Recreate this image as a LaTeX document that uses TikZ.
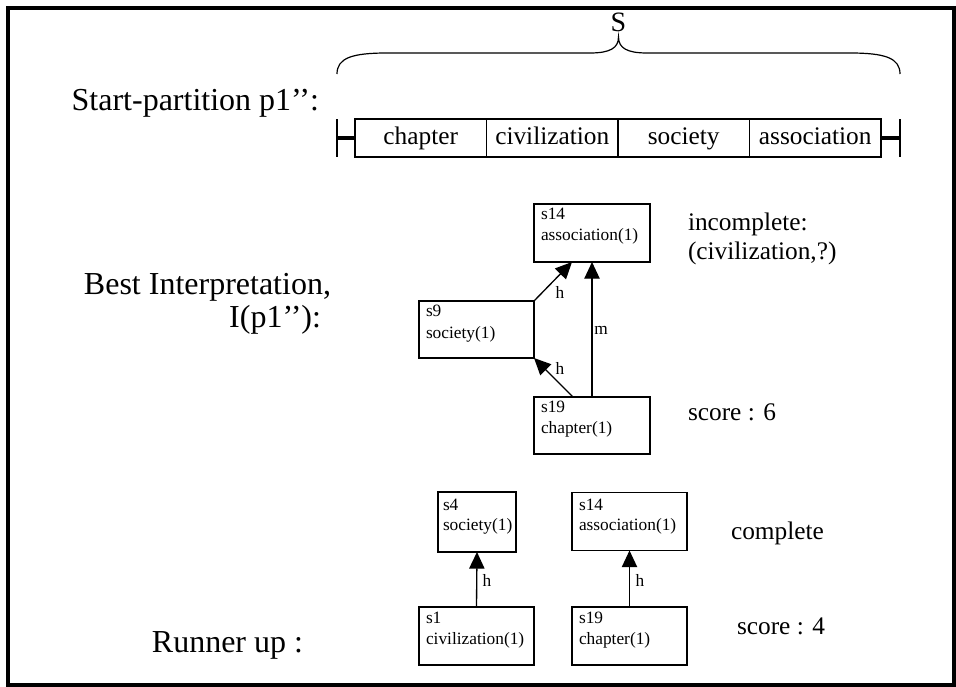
\documentclass[tikz,border=0pt]{standalone}
\usepackage{fontspec}
\setmainfont{Liberation Serif}
\usetikzlibrary{arrows.meta,calc}
\begin{document}
\begin{tikzpicture}[x=0.75pt,y=-0.75pt,
  every node/.style={inner sep=0pt,outer sep=0pt},
  bigtxt/.style={font=\fontsize{24}{28}\selectfont},
  midtxt/.style={font=\fontsize{19}{23}\selectfont},
  smalltxt/.style={font=\fontsize{13}{16}\selectfont},
  cell/.style={draw,line width=0.9pt,minimum width=98.625pt,minimum height=28.5pt,
               text height=13pt,text depth=4pt,midtxt},
  sbox/.style={draw,line width=1pt,minimum width=87pt,minimum height=43.5pt},
  nbox/.style={draw,line width=1pt,minimum width=58.5pt,minimum height=45pt},
  btxt/.style={smalltxt,anchor=base west},
  elab/.style={smalltxt},
  arr/.style={-{Triangle[length=12.5pt,width=11.5pt]},line width=1pt},
]
\useasboundingbox (0,0) rectangle (956,686);
% outer frame
\draw[line width=3pt] (8,8) rectangle (954,685);

% ---- start partition ----
\node[bigtxt,anchor=base east] (lblstart) at (319,110) {Start-partition p1’’:};
\node[font=\fontsize{21}{25}\selectfont,anchor=base] (stop) at (618.5,31) {S};
\draw[line width=0.9pt]
  (337,74) .. controls (337,58) and (352,53) .. (387,53) -- (590,53)
  .. controls (610,53) and (618.5,48) .. (618.5,37)
  .. controls (618.5,48) and (627,53) .. (647,53) -- (850,53)
  .. controls (885,53) and (900,58) .. (900,74);

\node[cell] (c1) at (420.75,138) {chapter};
\node[cell] (c2) at (552.25,138) {civilization};
\node[cell] (c3) at (683.75,138) {society};
\node[cell] (c4) at (815.25,138) {association};
\coordinate (tl) at (337,138);
\coordinate (tr) at (900,138);
\draw[line width=3pt] (tl) -- (c1.west);
\draw[line width=3pt] (c4.east) -- (tr);
\draw[line width=0.9pt] (337,119) -- (337,157);
\draw[line width=0.9pt] (900,119) -- (900,157);

% ---- best interpretation ----
\node[bigtxt,anchor=base east] (lblbest) at (331,294) {Best Interpretation,};
\node[bigtxt,anchor=base east] (lblbest2) at (321,327) {I(p1’’):};

\node[sbox] (s14a) at (592,233) {};
\node[btxt] (s14at) at (541,219) {s14};
\node[btxt] (s14an) at (541,240) {association(1)};

\node[sbox,minimum width=86.25pt,minimum height=42.75pt] (s9) at (476.5,329.5) {};
\node[btxt] (s9t) at (426,316) {s9};
\node[btxt] (s9n) at (426,338) {society(1)};

\node[sbox,minimum height=42.75pt] (s19a) at (592,425.5) {};
\node[btxt] (s19at) at (541,412) {s19};
\node[btxt] (s19an) at (541,433) {chapter(1)};

\draw[arr] (s9.north east) -- ($(s14a.south)+(-20,0)$);
\draw[arr] (s19a.north) -- (s14a.south);
\draw[arr] ($(s19a.north)+(-19,0)$) -- (s9.south east);
\node[elab] (e1) at (560,292) {h};
\node[elab] (e2) at (601,330) {m};
\node[elab] (e3) at (560,368) {h};

\node[midtxt,anchor=base west] (inc1) at (688,230) {incomplete:};
\node[midtxt,anchor=base west] (inc2) at (688,259) {(civilization,?)};
\node[midtxt,anchor=base west] (sc6) at (688,420) {score : 6};

% ---- runner up ----
\node[bigtxt,anchor=base east] (lblrun) at (303,652) {Runner up :};

\node[nbox] (s4) at (477,522) {};
\node[btxt] (s4t) at (443,510) {s4};
\node[btxt] (s4n) at (443,530) {society(1)};

\node[sbox,minimum width=86.25pt] (s14b) at (629.5,521.5) {};
\node[btxt] (s14bt) at (579,510) {s14};
\node[btxt] (s14bn) at (579,530) {association(1)};

\node[sbox,minimum width=86.25pt] (s1) at (476.5,636) {};
\node[btxt] (s1t) at (426,623) {s1};
\node[btxt] (s1n) at (426,644) {civilization(1)};

\node[sbox,minimum width=86.25pt] (s19b) at (629.5,636) {};
\node[btxt] (s19bt) at (579,623) {s19};
\node[btxt] (s19bn) at (579,644) {chapter(1)};

\draw[arr] (s1.north) -- (s4.south);
\draw[arr] (s19b.north) -- (s14b.south);
\node[elab] (e4) at (487,580) {h};
\node[elab] (e5) at (640,580) {h};

\node[midtxt,anchor=base west] (comp) at (731,539) {complete};
\node[midtxt,anchor=base west] (sc4) at (737,634) {score : 4};
\end{tikzpicture}
\end{document}
